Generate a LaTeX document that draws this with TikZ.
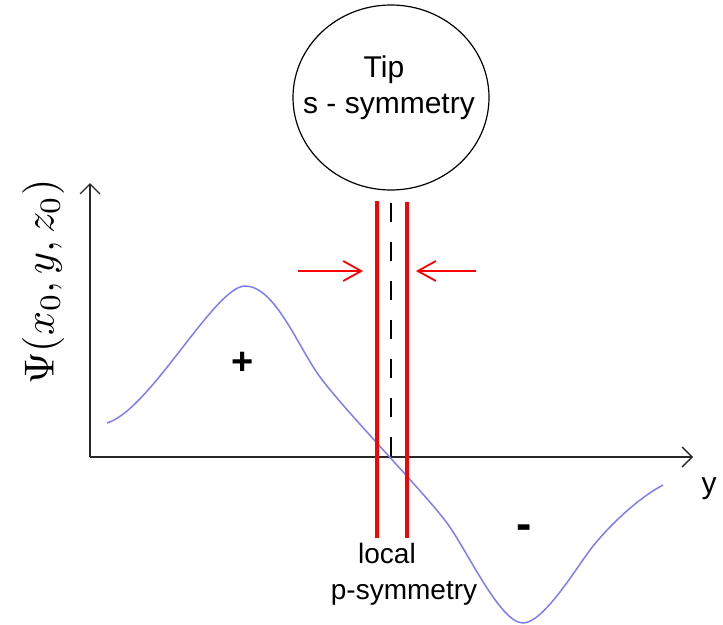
\documentclass[tikz,border=0pt]{standalone}
\usepackage[no-math]{fontspec}
\setmainfont{Liberation Sans}
\usetikzlibrary{arrows.meta,shapes.geometric}
\definecolor{axisgray}{RGB}{40,40,40}
\definecolor{curveblue}{RGB}{125,125,250}
\definecolor{barred}{RGB}{255,0,0}
\begin{document}
\begin{tikzpicture}[x=1pt,y=-1pt,
  axisline/.style={draw=axisgray, line width=1.4pt, -{Straight Barb[length=10pt,width=20pt,line width=1.4pt]}},
  redarrow/.style={draw=barred, line width=1.8pt, -{Straight Barb[length=18pt,width=20pt,line width=1.8pt]}},
  redbar/.style={draw=barred, line width=4pt},
  centerdash/.style={draw=black, line width=2pt, dash pattern=on 19pt off 20pt},
  curve/.style={draw=curveblue, line width=1.5pt},
  lbl/.style={inner sep=0pt, font=\fontsize{30}{36}\selectfont},
  sign/.style={inner sep=0pt, font=\bfseries\fontsize{38}{44}\selectfont}
]
\useasboundingbox (0,0) rectangle (723,624);
% tip
\node[draw=black, line width=1.2pt, ellipse, minimum width=196pt, minimum height=185pt, inner sep=0pt] (tip) at (391,97.5) {};
\node[lbl, anchor=base] (tiptext) at (384,77) {Tip};
\node[lbl, anchor=base] (symtext) at (389,113) {s - symmetry};
% axes
\coordinate (origin) at (90,457);
\coordinate (ytop) at (90,183);
\coordinate (xend) at (693,457);
\draw[axisline] (origin) -- (ytop);
\draw[axisline] (origin) -- (xend);
\node[rotate=90, inner sep=0pt, scale=4.2] (psi) at (43,282) {$\Psi(x_0,y,z_0)$};
\node[lbl, anchor=base] (ylabel) at (709,493) {y};
% curve
\draw[curve] (107,423) .. controls (150,410) and (215,286) .. (245,286)
  .. controls (275,286) and (298,347) .. (320,377)
  .. controls (345,411) and (424,492) .. (447,523)
  .. controls (467,550) and (500,623) .. (523,623)
  .. controls (543,623) and (575,570) .. (590,550)
  .. controls (610,524) and (640,497) .. (663,485);
\node[sign] (plus) at (243,363) {+};
\node[sign, font=\bfseries\fontsize{46}{50}\selectfont] (minus) at (524,532) {-};
% center dashed line and red bars
\coordinate (dtop) at (391,203);
\coordinate (dbot) at (391,456);
\draw[centerdash] (dtop) -- (dbot);
\coordinate (ltop) at (377,201);
\coordinate (lbot) at (377,538);
\coordinate (rtop) at (407,202);
\coordinate (rbot) at (407,538);
\draw[redbar] (ltop) -- (lbot);
\draw[redbar] (rtop) -- (rbot);
% red arrows
\coordinate (la) at (298,271);
\coordinate (lb) at (363,271);
\coordinate (ra) at (476,271);
\coordinate (rb) at (416,271);
\draw[redarrow] (la) -- (lb);
\draw[redarrow] (ra) -- (rb);
% bottom labels
\node[lbl, anchor=base, font=\fontsize{28}{34}\selectfont] (local) at (387,563) {local};
\node[lbl, anchor=base, font=\fontsize{28}{34}\selectfont] (psym) at (404,599) {p-symmetry};
\end{tikzpicture}
\end{document}
